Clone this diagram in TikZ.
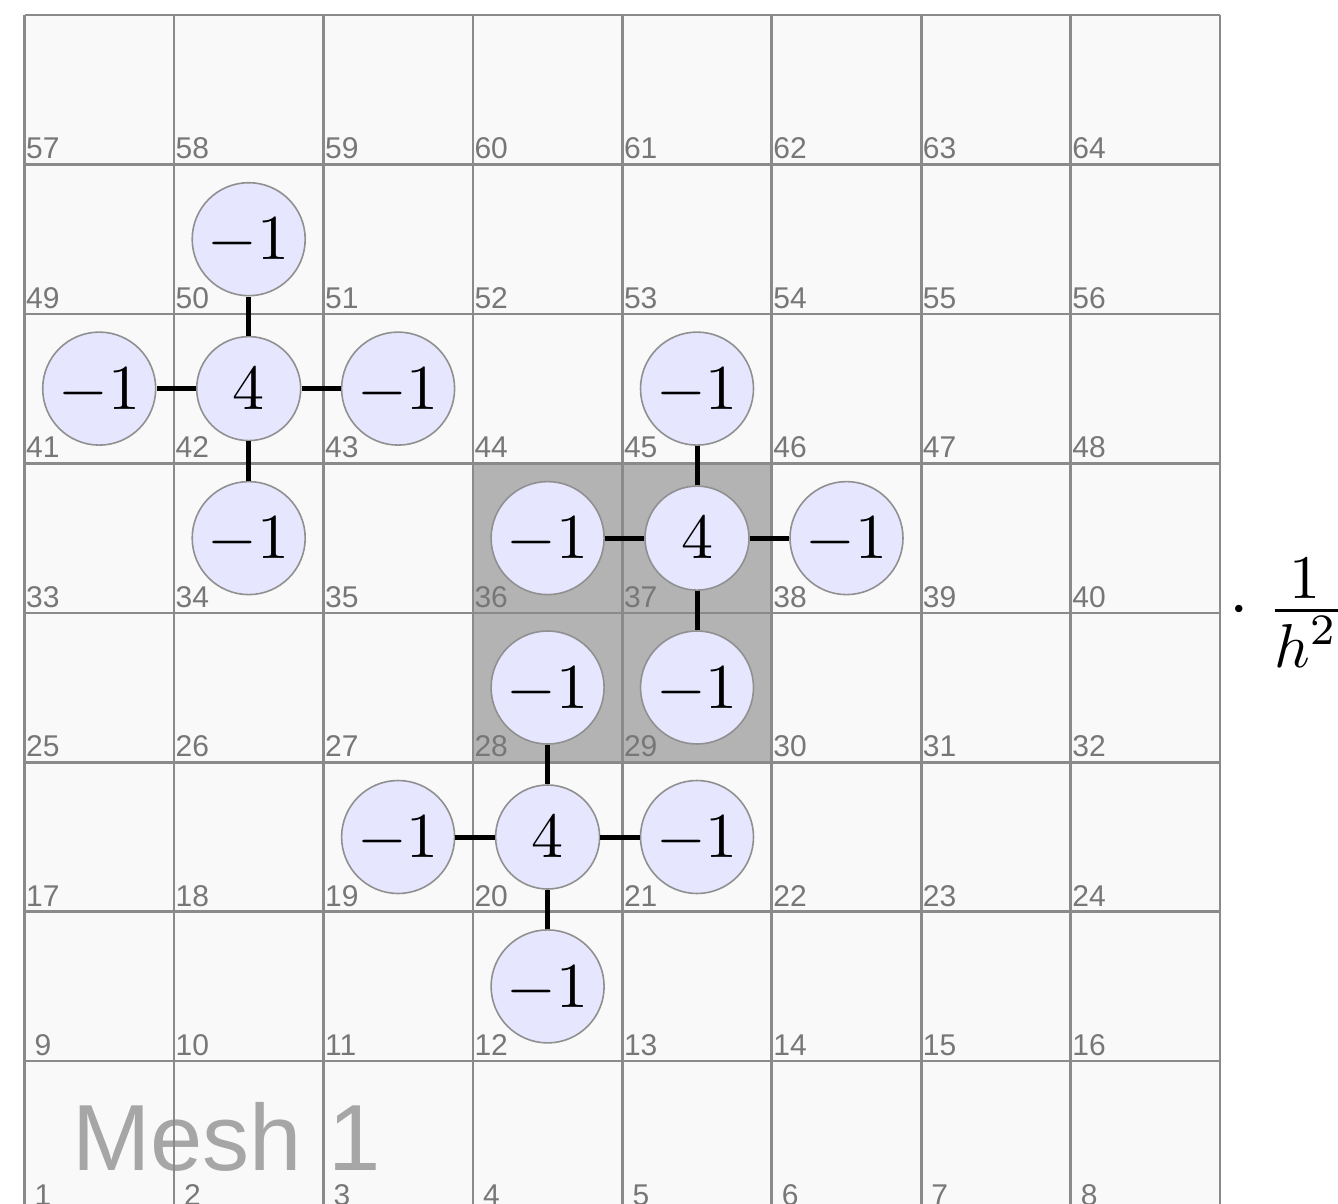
\documentclass[tikz,border=0pt]{standalone}
\usepackage{graphicx}
\usepackage{fontspec}
\newfontfamily\labfont{Liberation Sans}
\definecolor{cellfill}{HTML}{F9F9F9}
\definecolor{gridcol}{HTML}{8A8A8A}
\definecolor{shadecol}{HTML}{B3B3B3}
\definecolor{lav}{HTML}{E6E6FF}
\definecolor{labcol}{HTML}{777777}
\definecolor{meshcol}{HTML}{A6A6A6}
\definecolor{ringcol}{HTML}{909090}
\newcommand\stencilval[1]{\scalebox{6.4}{$#1$}}
\newcommand\factorval[1]{\scalebox{6.2}{$#1$}}
\begin{document}
\begin{tikzpicture}[x=1pt,y=-1pt,
  gridline/.style={draw=gridcol, line width=2.6pt},
  cellnum/.style={anchor=base west, inner sep=0pt, font=\labfont\fontsize{30}{30}\selectfont, text=labcol},
  ring/.style={circle, draw=ringcol, line width=1.6pt, fill=lav, inner sep=0pt, text depth=0pt},
  centre/.style={ring, minimum size=104pt},
  nbr/.style={ring, minimum size=113pt},
  link/.style={draw=black, line width=5pt},
  mathbig/.style={inner sep=0pt}]
\def\xo{24.5}\def\yo{15}\def\cs{149.45}
\useasboundingbox (0,0) rectangle (1338,1204);
\clip (0,0) rectangle (1338,1204);
\fill[white] (0,0) rectangle (1338,1204);
% cells
\fill[cellfill] (\xo,\yo) rectangle ({\xo+8*\cs},{\yo+8*\cs});
\fill[shadecol] ({\xo+3*\cs},{\yo+3*\cs}) rectangle ({\xo+5*\cs},{\yo+5*\cs});
% title
\node[anchor=base west, inner sep=0pt, text=meshcol, font=\labfont\fontsize{94}{94}\selectfont] (mesh) at (72,1170) {Mesh 1};
% grid
\foreach \i in {0,...,8}{
  \draw[gridline] ({\xo+\i*\cs},\yo) -- ({\xo+\i*\cs},{\yo+8*\cs});
  \draw[gridline] (\xo,{\yo+\i*\cs}) -- ({\xo+8*\cs},{\yo+\i*\cs});
}
% cell numbers
\foreach \n in {1,...,64}{
  \pgfmathtruncatemacro\cc{mod(\n-1,8)}
  \pgfmathtruncatemacro\rr{div(\n-1,8)}
  \pgfmathsetmacro\dx{ifthenelse(\n<10,10,1.5)}
  \node[cellnum] (n\n) at ({\xo+\cc*\cs+\dx},{\yo+(8-\rr)*\cs-5.5}) {\n};
}
% stencil around 42
\node[centre] (c42) at (248.7,388.6) {\stencilval{4}};
\node[nbr] (c50) at (248.7,239.2) {\stencilval{-1}};
\node[nbr] (c34) at (248.7,538.1) {\stencilval{-1}};
\node[nbr] (c41) at (99.2,388.6) {\stencilval{-1}};
\node[nbr] (c43) at (398.1,388.6) {\stencilval{-1}};
% stencil around 37
\node[centre] (c37) at (697.0,538.1) {\stencilval{4}};
\node[nbr] (c45) at (697.0,388.6) {\stencilval{-1}};
\node[nbr] (c29) at (697.0,687.5) {\stencilval{-1}};
\node[nbr] (c36) at (547.6,538.1) {\stencilval{-1}};
\node[nbr] (c38) at (846.5,538.1) {\stencilval{-1}};
% stencil around 20
\node[centre] (c20) at (547.6,837.0) {\stencilval{4}};
\node[nbr] (c28) at (547.6,687.5) {\stencilval{-1}};
\node[nbr] (c12) at (547.6,986.4) {\stencilval{-1}};
\node[nbr] (c19) at (398.1,837.0) {\stencilval{-1}};
\node[nbr] (c21) at (697.0,837.0) {\stencilval{-1}};
% links
\foreach \a/\b in {42/50,42/34,42/41,42/43,37/45,37/29,37/36,37/38,20/28,20/12,20/19,20/21}{
  \draw[link] (c\a) -- (c\b);
}
% factor  . 1/h^2
\node[mathbig, anchor=base] (dot) at (1239,626) {\scalebox{7}{$\cdot$}};
\node[mathbig, anchor=base] (num) at (1305,598) {\factorval{1}};
\node[mathbig, anchor=base west] (den) at (1274,667) {\factorval{h^2}};
\coordinate (barL) at (1275,610.5);
\coordinate (barR) at (1345,610.5);
\draw[line width=2.6pt] (barL) -- (barR);
\end{tikzpicture}
\end{document}
